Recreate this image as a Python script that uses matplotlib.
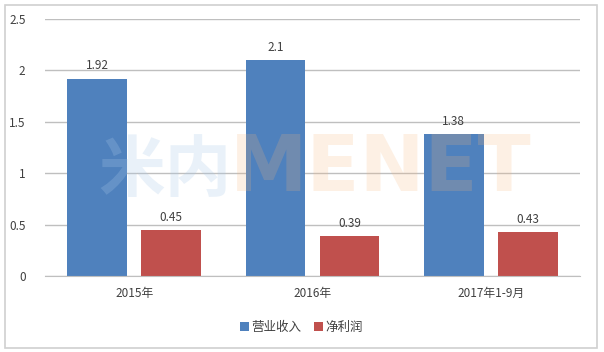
import numpy as np
import matplotlib.pyplot as plt
from matplotlib.patches import Rectangle

plt.rcParams['font.family'] = ['Noto Sans CJK SC', 'DejaVu Sans']

categories = ['2015年', '2016年', '2017年1-9月']
revenue = [1.92, 2.1, 1.38]
profit = [0.45, 0.39, 0.43]
series_names = ['营业收入', '净利润']

fig = plt.figure(figsize=(6.04, 3.52), dpi=100)
ax = fig.add_axes([0.0745, 0.216, 0.8855, 0.730])

# outer frame
fig.patches.append(Rectangle((5 / 604, 4 / 352), 592 / 604, 343 / 352,
                             transform=fig.transFigure, fill=False,
                             edgecolor='#d0d0d0', linewidth=1.2))

x = np.arange(len(categories))
w = 0.335
gap = 0.08
b1 = ax.bar(x - (w + gap) / 2, revenue, w, color='#4F81BD', label=series_names[0], zorder=3)
b2 = ax.bar(x + (w + gap) / 2, profit, w, color='#C0504D', label=series_names[1], zorder=3)

for bars, vals in ((b1, revenue), (b2, profit)):
    for r, v in zip(bars, vals):
        ax.text(r.get_x() + r.get_width() / 2, v + 0.06, f'{v:g}',
                ha='center', va='bottom', fontsize=8.5, color='#404040', zorder=6)

# faint watermark, drawn over the bars
ax.text(0.10, 0.33, '米内', transform=ax.transAxes, fontsize=48, fontweight='bold',
        color='#a9c8e8', alpha=0.25, ha='left', va='baseline', zorder=4)
ax.text(0.345, 0.33, 'MENET', transform=ax.transAxes, fontsize=56, fontweight='bold',
        family='DejaVu Sans', color='#f7b57a', alpha=0.2, ha='left', va='baseline', zorder=4)

ax.set_xlim(-0.5, 2.5)
ax.set_ylim(0, 2.5)
ax.set_yticks([0, 0.5, 1, 1.5, 2, 2.5])
ax.set_yticklabels(['0', '0.5', '1', '1.5', '2', '2.5'])
ax.set_xticks(x)
ax.set_xticklabels(categories)
ax.tick_params(axis='both', length=0, labelsize=8.5, colors='#404040')
ax.tick_params(axis='y', pad=14)
ax.tick_params(axis='x', pad=8)
ax.grid(axis='y', color='#bfbfbf', linewidth=1, zorder=0)
for s in ['top', 'right', 'left']:
    ax.spines[s].set_visible(False)
ax.spines['bottom'].set_color('#bfbfbf')
ax.spines['bottom'].set_zorder(5)

ax.legend(loc='center', bbox_to_anchor=(0.48, -0.2), ncol=2, frameon=False,
          fontsize=9, handlelength=0.7, handleheight=0.7, handletextpad=0.2,
          columnspacing=1.0, labelcolor='#404040')

fig.savefig('out.png', dpi=100)
